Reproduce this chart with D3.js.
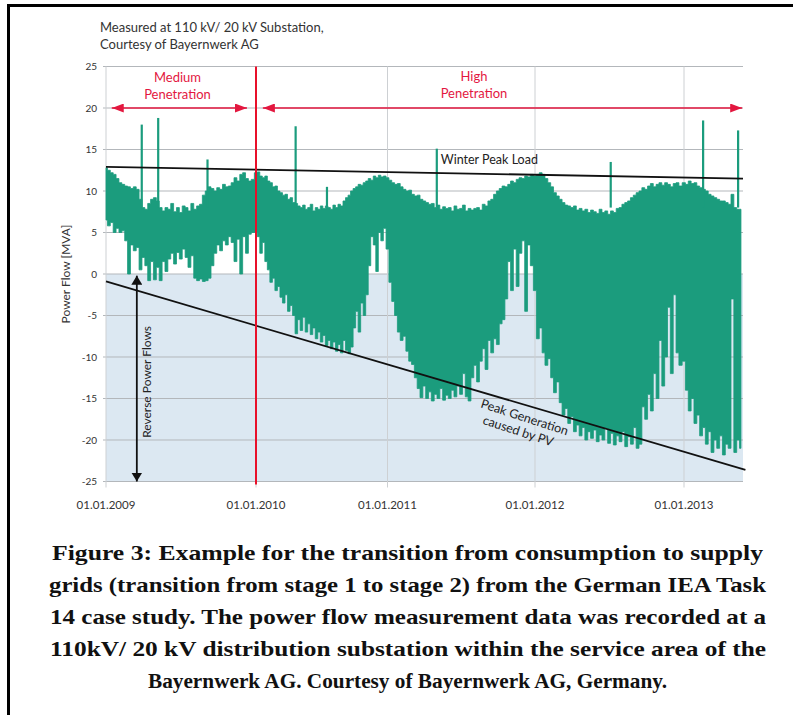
<!DOCTYPE html>
<html><head><meta charset="utf-8">
<script src="https://cdn.jsdelivr.net/npm/d3@7"></script>
<style>
html,body{margin:0;padding:0;background:#fff;}
svg{display:block;}
</style></head>
<body>
<script>
// ---------------- DATA ----------------
const yearTicks = ["01.01.2009","01.01.2010","01.01.2011","01.01.2012","01.01.2013"];
const yTicks = [25,20,15,10,5,0,-5,-10,-15,-20,-25];
const titleLines = ["Measured at 110 kV/ 20 kV Substation,","Courtesy of Bayernwerk AG"];
const captionLines = [
 "Figure 3: Example for the transition from consumption to supply",
 "grids (transition from stage 1 to stage 2) from the German IEA Task",
 "14 case study. The power flow measurement data was recorded at a",
 "110kV/ 20 kV distribution substation within the service area of the",
 "Bayernwerk AG. Courtesy of Bayernwerk AG, Germany."
];
// weekly maximum / minimum power flow [MVA]
const upper2009 = [12.8,12.5,12.2,12.0,11.5,11.0,10.8,10.6,10.5,10.3,10.5,10.2,9.0,8.0,7.8,8.5,9.0,9.2,8.8,8.0,7.6,8.0,7.8,8.5,7.5,8.0,7.4,8.2,8.0,7.6,8.5,7.8,8.2,8.4,9.5,10.0,10.5,10.3,10.0,10.4,10.2,10.8,10.5,10.6,11.0,11.6,11.2,12.0,12.2,11.5,11.2,11.4];
const lower2009 = [6.5,5.8,6.2,5.0,5.5,5.0,5.2,4.0,0.0,3.5,2.8,3.2,0.5,2.0,1.0,-0.8,1.5,-0.7,0.8,-0.8,1.5,0.3,1.8,2.5,1.2,2.6,1.8,3.0,2.0,0.8,2.2,-0.5,-0.8,-0.6,-0.9,-0.8,-0.5,1.0,2.5,3.5,2.8,4.0,3.5,4.5,3.8,1.5,4.2,0.0,4.5,2.5,4.8,5.0];
const upper2010 = [12.2,12.3,11.8,11.6,11.8,11.2,11.0,10.5,10.6,10.0,9.8,9.5,9.6,9.0,9.2,8.6,8.5,8.2,8.0,8.3,7.8,8.0,8.4,7.6,8.0,7.8,8.2,7.9,8.2,8.0,7.8,8.3,8.0,8.4,8.2,8.8,9.2,9.5,10.0,10.3,10.5,10.8,10.7,11.0,11.2,11.5,11.3,11.8,11.6,11.9,11.7,11.8];
const lower2010 = [5.0,4.5,2.5,3.8,1.5,0.5,-1.0,-0.5,-2.0,-1.5,-2.8,-3.5,-2.5,-4.5,-3.8,-5.0,-7.2,-5.5,-6.8,-5.2,-7.0,-6.0,-7.3,-6.5,-7.8,-7.0,-8.2,-7.4,-8.6,-8.0,-9.0,-8.2,-9.3,-8.5,-9.5,-8.0,-9.2,-9.6,-8.8,-6.5,-4.5,-7.0,-3.5,-5.0,-2.5,1.0,4.5,3.5,0.3,5.0,4.0,5.5];
const upper2011 = [11.6,11.3,11.0,10.8,10.9,10.5,10.2,10.0,10.1,9.6,9.4,9.5,9.0,8.8,8.6,8.4,8.5,8.0,8.3,7.8,8.1,7.9,8.0,7.6,8.2,7.8,7.9,8.3,7.6,7.9,7.7,7.9,8.0,7.7,8.4,8.2,8.8,9.0,9.6,10.0,10.3,10.6,10.5,10.8,11.2,11.0,11.4,11.6,11.5,11.8,11.7,12.0];
const lower2011 = [3.0,-1.0,-3.3,-5.0,-7.0,-8.0,-7.5,-9.3,-10.5,-10.9,-12.5,-13.8,-14.9,-13.5,-15.0,-14.2,-15.3,-14.5,-15.0,-13.8,-15.2,-14.6,-15.0,-14.0,-14.8,-13.5,-14.5,-12.0,-14.8,-15.3,-12.5,-11.0,-13.0,-10.5,-9.0,-11.5,-8.0,-9.5,-7.8,-8.5,-6.0,-5.5,-3.0,1.5,-2.0,3.0,-1.5,2.5,4.0,-4.5,3.5,1.0];
const upper2012 = [11.8,12.0,12.2,12.0,11.5,11.0,10.5,9.8,9.4,9.0,8.6,8.3,8.2,8.0,8.2,7.7,7.9,7.6,7.8,7.4,7.7,7.5,7.3,7.8,7.4,7.6,7.2,7.6,7.4,7.9,8.0,8.4,8.6,8.8,9.2,9.5,9.8,10.0,10.4,10.2,10.6,10.9,10.5,10.8,11.0,10.7,11.0,10.8,10.5,10.9,11.0,10.6];
const lower2012 = [-2.0,-7.8,-6.5,-9.5,-11.0,-10.2,-12.5,-14.3,-13.0,-15.5,-17.0,-16.2,-18.0,-17.2,-19.0,-18.2,-19.5,-18.5,-20.0,-19.0,-19.8,-18.8,-20.2,-19.4,-20.0,-18.6,-20.4,-19.2,-20.6,-19.5,-20.2,-19.0,-20.8,-19.6,-20.5,-18.5,-21.0,-20.5,-16.0,-17.5,-14.5,-16.5,-12.0,-15.0,-8.0,-13.5,-10.0,-4.0,-12.0,-2.5,-9.5,-11.0];
const upper2013 = [11.0,10.8,11.2,10.9,11.0,10.6,10.4,10.2,10.0,9.6,9.4,9.2,9.0,8.8,8.8,8.6,8.4,9.6,8.0,7.8,7.8];
const lower2013 = [-10.5,-14.0,-16.5,-15.0,-18.0,-17.0,-19.5,-18.5,-20.5,-19.0,-21.5,-20.0,-21.0,-19.5,-21.8,-20.5,-21.0,-3.0,-21.5,-20.0,-21.0];
// short upward peaks
const peakDates = ["2009-03-29","2009-05-08","2009-09-05","2010-04-21","2010-07-17","2011-05-03","2012-07-05","2013-02-17","2013-05-14"];
const peakValues = [18.0,18.8,13.8,17.8,10.5,15.1,13.5,18.5,17.3];
// reference lines (start / end values)
const winterPeak = [{date:"2009-01-01",v:12.9},{date:"2013-05-26",v:11.5}];
const peakGen = [{date:"2009-01-01",v:-0.9},{date:"2013-06-01",v:-23.6}];
const endDate = "2013-05-26";

// ---------------- SETUP ----------------
const W = 793, H = 715;
const parse = d3.utcParse("%Y-%m-%d");
const svg = d3.select("body").append("svg").attr("width", W).attr("height", H);
const sans = "Lato, 'Open Sans', 'Noto Sans', sans-serif";

// frame
svg.append("line").attr("x1",8).attr("x2",W+5).attr("y1",5.5).attr("y2",5.5).attr("stroke","#000").attr("stroke-width",3);
svg.append("line").attr("x1",8.5).attr("x2",8.5).attr("y1",4).attr("y2",H+5).attr("stroke","#000").attr("stroke-width",3);

const years = [2009,2010,2011,2012,2013];
const uppers = [upper2009,upper2010,upper2011,upper2012,upper2013];
const lowers = [lower2009,lower2010,lower2011,lower2012,lower2013];
const series = [];
years.forEach((yr,k)=>{
  uppers[k].forEach((u,i)=>{
    series.push({date:new Date(Date.UTC(yr,0,1+7*i)), hi:u, lo:lowers[k][i]});
  });
});

const x = d3.scaleUtc()
  .domain([Date.UTC(2009,0,1),Date.UTC(2010,0,1),Date.UTC(2011,0,1),Date.UTC(2012,0,1),Date.UTC(2013,0,1),parse(endDate)])
  .range([106,256,387.5,535,684,743]);
const y = d3.scaleLinear().domain([-25,25]).range([481.5,66.5]);

const g = svg.append("g");

// blue reverse-flow zone
g.append("rect").attr("x",x.range()[0]).attr("y",y(0)).attr("width",x(parse(endDate))-x.range()[0])
  .attr("height",y(-25)-y(0)).attr("fill","#dce8f2");

// horizontal grid
g.append("g").selectAll("line").data(yTicks).join("line")
  .attr("x1",103).attr("x2",x(parse(endDate)))
  .attr("y1",d=>y(d)).attr("y2",d=>y(d))
  .attr("stroke","#b3b7bb").attr("stroke-width",1);
// vertical grid
const tickDates = years.map(yr=>new Date(Date.UTC(yr,0,1)));
g.append("g").selectAll("line").data(tickDates).join("line")
  .attr("x1",d=>x(d)).attr("x2",d=>x(d)).attr("y1",y(25)).attr("y2",y(-25)+6)
  .attr("stroke","#cdd0d3").attr("stroke-width",1);

// y tick labels
g.append("g").selectAll("text").data(yTicks).join("text")
  .attr("x",97).attr("y",d=>y(d)+3.5).attr("text-anchor","end")
  .attr("font-family",sans).attr("font-size",10).attr("fill","#333")
  .text(d=>d);
// x tick labels
g.append("g").selectAll("text").data(tickDates).join("text")
  .attr("x",d=>x(d)).attr("y",509).attr("text-anchor","middle")
  .attr("font-family",sans).attr("font-size",11.5).attr("fill","#333")
  .text((d,i)=>yearTicks[i]);

// y axis title
g.append("text").attr("transform",`translate(70,${y(0)}) rotate(-90)`)
  .attr("text-anchor","middle").attr("font-family",sans).attr("font-size",12).attr("fill","#333")
  .text("Power Flow [MVA]");

// data band (weekly max/min drawn as steps, giving the comb look of dense data)
const area = d3.area().curve(d3.curveStep).x(d=>x(d.date)).y0(d=>y(d.lo)).y1(d=>y(d.hi));
g.append("path").datum(series).attr("d",area).attr("fill","#1b9c7d").attr("stroke","#1b9c7d").attr("stroke-width",0.8);
// peaks
const peaks = peakDates.map((d,i)=>({date:parse(d), v:peakValues[i]}));
g.append("g").selectAll("line").data(peaks).join("line")
  .attr("x1",d=>x(d.date)).attr("x2",d=>x(d.date)).attr("y1",d=>y(d.v)).attr("y2",y(8))
  .attr("stroke","#1b9c7d").attr("stroke-width",2.2);

// reference lines
const lineGen = d3.line().x(d=>x(parse(d.date))).y(d=>y(d.v));
g.append("path").datum(winterPeak).attr("d",lineGen).attr("stroke","#111").attr("stroke-width",1.8).attr("fill","none");
g.append("path").datum(peakGen).attr("d",lineGen).attr("stroke","#111").attr("stroke-width",1.8).attr("fill","none");

// red transition line
g.append("line").attr("x1",x(tickDates[1])).attr("x2",x(tickDates[1])).attr("y1",y(25)).attr("y2",y(-25)+3)
  .attr("stroke","#e8102a").attr("stroke-width",2);

// arrow markers
const defs = svg.append("defs");
function marker(id,color,w,h){
  defs.append("marker").attr("id",id).attr("viewBox",`0 0 ${w} ${h}`).attr("refX",w).attr("refY",h/2)
    .attr("markerWidth",w).attr("markerHeight",h).attr("markerUnits","userSpaceOnUse").attr("orient","auto-start-reverse")
    .append("path").attr("d",`M0,0L${w},${h/2}L0,${h}Z`).attr("fill",color);
}
marker("ar","#e3173f",12,9);
marker("ak","#111",9,11);

const red = "#e3173f";
function hArrow(d1,d2,v){
  g.append("line").attr("x1",x(parse(d1))).attr("x2",x(parse(d2))).attr("y1",y(v)).attr("y2",y(v))
    .attr("stroke",red).attr("stroke-width",1.6)
    .attr("marker-start","url(#ar)").attr("marker-end","url(#ar)");
}
hArrow("2009-01-15","2009-12-10",20);
hArrow("2010-01-20","2013-05-24",20);
function redText(lines,d,ys){
  lines.forEach((t,i)=>g.append("text").attr("x",x(parse(d))).attr("y",ys[i]).attr("text-anchor","middle")
    .attr("font-family",sans).attr("font-size",13).attr("fill",red).text(t));
}
redText(["Medium","Penetration"],"2009-06-24",[82,99]);
redText(["High","Penetration"],"2011-08-03",[81,98]);

// reverse power flows arrow
const rpf = parse("2009-03-17");
g.append("line").attr("x1",x(rpf)).attr("x2",x(rpf)).attr("y1",y(-0.2)).attr("y2",y(-25))
  .attr("stroke","#111").attr("stroke-width",1.8)
  .attr("marker-start","url(#ak)").attr("marker-end","url(#ak)");
g.append("text").attr("transform",`translate(${x(rpf)+14},${y(-13)}) rotate(-90)`)
  .attr("text-anchor","middle").attr("font-family",sans).attr("font-size",12).attr("fill","#222")
  .text("Reverse Power Flows");

// annotations
g.append("text").attr("x",x(parse("2011-09-10"))).attr("y",164).attr("text-anchor","middle")
  .attr("font-family",sans).attr("font-size",12.5).attr("fill","#222").text("Winter Peak Load");
const ang = Math.atan2(y(peakGen[1].v)-y(peakGen[0].v), x(parse(peakGen[1].date))-x(parse(peakGen[0].date)))*180/Math.PI + 1.5;
const pg = g.append("g").attr("transform",`translate(${x(parse("2011-12-01"))},${y(-18.1)}) rotate(${ang})`);
pg.append("text").attr("x",0).attr("y",-3).attr("text-anchor","middle").attr("font-family",sans).attr("font-size",12.5).attr("fill","#222").text("Peak Generation");
pg.append("text").attr("x",-2).attr("y",12).attr("text-anchor","middle").attr("font-family",sans).attr("font-size",12.5).attr("fill","#222").text("caused by PV");

// title
titleLines.forEach((t,i)=>svg.append("text").attr("x",100).attr("y",32+i*17)
  .attr("font-family",sans).attr("font-size",13).attr("fill","#333").text(t));

// caption
const capY = [560,592,624,656,688];
const capExt = [[52,763],[49,766],[50,766],[50,766],[148,667]];
captionLines.forEach((t,i)=>svg.append("text")
  .attr("x",(capExt[i][0]+capExt[i][1])/2).attr("y",capY[i]).attr("text-anchor","middle")
  .attr("font-family","'Liberation Serif', 'DejaVu Serif', serif").attr("font-weight","bold").attr("font-size",21.5)
  .attr("textLength",capExt[i][1]-capExt[i][0]).attr("lengthAdjust","spacingAndGlyphs")
  .attr("fill","#111").text(t));
</script>
</body></html>
